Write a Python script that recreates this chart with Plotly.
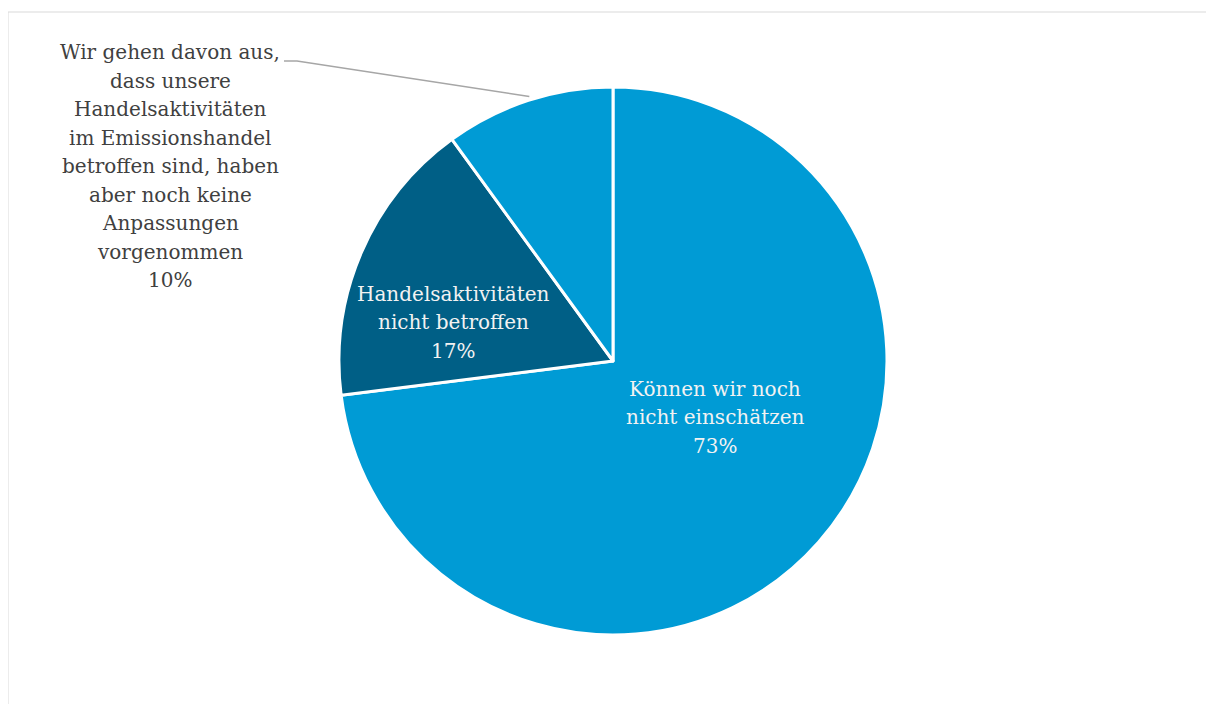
import math
import plotly.graph_objects as go

labels = ["Können wir noch<br>nicht einschätzen",
          "Handelsaktivitäten<br>nicht betroffen",
          "Wir gehen davon aus,<br>dass unsere<br>Handelsaktivitäten<br>im Emissionshandel<br>betroffen sind, haben<br>aber noch keine<br>Anpassungen<br>vorgenommen"]
values = [73, 17, 10]
colors = ["#009BD5", "#005F86", "#009BD5"]

W, H = 1214, 704
OFF = 8  # page body margin
cx, cy, r = 613, 361, 274
FONT = "DejaVu Serif"
LINE_H = 28.5


def X(px):
    return (px - OFF) / W


def Y(py):
    return 1 - (py - OFF) / H


fig = go.Figure()
fig.add_trace(go.Pie(
    labels=labels, values=values, sort=False, direction="clockwise", rotation=0,
    marker=dict(colors=colors, line=dict(color="white", width=3)),
    textinfo="none", hoverinfo="label+percent", showlegend=False,
    domain=dict(x=[X(cx - r), X(cx + r)], y=[Y(cy + r), Y(cy - r)]),
))

# label centres (pixels) for the three slices, one annotation per text line
pos = [(715, 417, "#F2F2F2"), (453, 322, "#F2F2F2"), (170, 166, "#404040")]
total = sum(values)
for (lab, v), (px, py, col) in zip(zip(labels, values), pos):
    lines = lab.split("<br>") + [f"{round(100 * v / total)}%"]
    n = len(lines)
    for i, ln in enumerate(lines):
        fig.add_annotation(x=X(px), y=Y(py + (i - (n - 1) / 2) * LINE_H),
                           xref="paper", yref="paper", xanchor="center", yanchor="middle",
                           text=ln, showarrow=False,
                           font=dict(family=FONT, size=20, color=col))

# leader line for the small slice
mid = (values[0] + values[1] + values[2] / 2) / total * 2 * math.pi
ex, ey = cx + r * math.sin(mid), cy - r * math.cos(mid)
fig.add_shape(type="path", xref="paper", yref="paper",
              path=f"M {X(284)} {Y(61)} L {X(297)} {Y(61)} L {X(ex + 1)} {Y(ey - 4)}",
              line=dict(color="#A6A6A6", width=1.5))

# outer frame
fig.add_shape(type="rect", xref="paper", yref="paper",
              x0=X(8), x1=1.02, y0=-0.02, y1=Y(12),
              line=dict(color="#D9D9D9", width=1))

fig.update_layout(width=W, height=H, margin=dict(l=0, r=0, t=0, b=0),
                  paper_bgcolor="white", plot_bgcolor="white")
fig.write_html("out.html")
